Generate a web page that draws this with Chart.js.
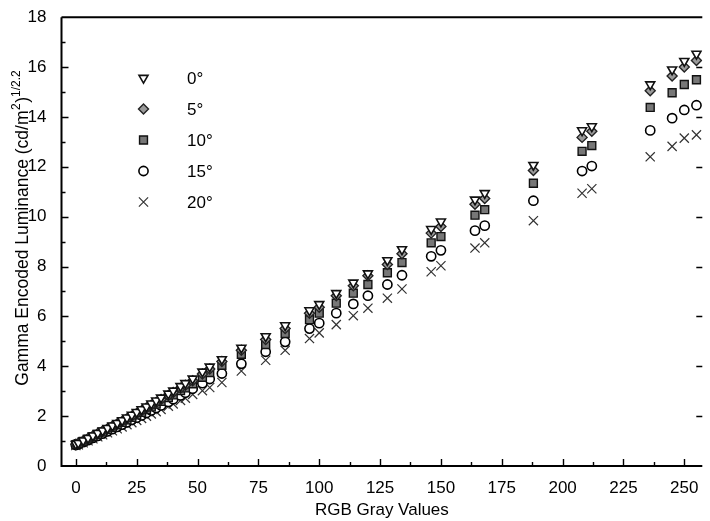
<!DOCTYPE html>
<html lang="en">
<head>
  <meta charset="UTF-8">
  <title>Gamma Encoded Luminance</title>
  <style>
    body { margin: 0; background: #fff; }
    #wrap { width: 710px; height: 521px; }
  </style>
  <script src="https://cdn.jsdelivr.net/npm/chart.js@4.4.0/dist/chart.umd.min.js"></script>
</head>
<body>
  <div id="wrap"><canvas id="lumChart" width="710" height="521"></canvas></div>
  <script>
    // RGB gray levels that were measured
    const grayValues = [0, 1, 3, 5, 7, 9, 11, 13, 15, 17, 19, 21, 23, 25, 27, 29, 31, 33, 35, 38, 40, 43, 45, 48,
      52, 55, 60, 68, 78, 86, 96, 100, 107, 114, 120, 128, 134, 146, 150, 164, 168, 188, 208, 212, 236, 245, 250, 255];

    // luminance^(1/2.2) per viewing angle
    const lum0 = [0.88, 0.92, 1.02, 1.12, 1.22, 1.32, 1.42, 1.52, 1.62, 1.72, 1.83, 1.94, 2.05, 2.16, 2.27, 2.38, 2.50, 2.62, 2.74, 2.90, 3.02, 3.20, 3.32, 3.50,
      3.78, 3.98, 4.28, 4.74, 5.20, 5.64, 6.24, 6.49, 6.93, 7.35, 7.72, 8.25, 8.69, 9.50, 9.80, 10.68, 10.94, 12.07, 13.46, 13.62, 15.30, 15.90, 16.24, 16.53];
    const lum5 = [0.87, 0.91, 1.00, 1.10, 1.20, 1.30, 1.40, 1.49, 1.59, 1.69, 1.79, 1.90, 2.00, 2.11, 2.22, 2.33, 2.44, 2.55, 2.67, 2.83, 2.95, 3.12, 3.24, 3.42,
      3.69, 3.89, 4.19, 4.64, 5.07, 5.51, 6.13, 6.37, 6.83, 7.23, 7.63, 8.08, 8.51, 9.34, 9.61, 10.50, 10.73, 11.85, 13.18, 13.43, 15.05, 15.64, 16.00, 16.26];
    const lum10 = [0.86, 0.90, 0.99, 1.08, 1.17, 1.27, 1.36, 1.46, 1.55, 1.65, 1.75, 1.85, 1.95, 2.05, 2.15, 2.26, 2.37, 2.48, 2.59, 2.74, 2.85, 3.02, 3.13, 3.30,
      3.56, 3.75, 4.04, 4.48, 4.87, 5.31, 5.87, 6.13, 6.53, 6.93, 7.28, 7.75, 8.16, 8.95, 9.20, 10.06, 10.28, 11.34, 12.62, 12.85, 14.38, 14.97, 15.30, 15.49];
    const lum15 = [0.84, 0.88, 0.96, 1.04, 1.13, 1.21, 1.30, 1.39, 1.48, 1.57, 1.66, 1.75, 1.85, 1.94, 2.03, 2.13, 2.23, 2.33, 2.43, 2.57, 2.68, 2.83, 2.94, 3.10,
      3.32, 3.49, 3.71, 4.10, 4.58, 4.98, 5.51, 5.73, 6.13, 6.50, 6.83, 7.28, 7.65, 8.41, 8.65, 9.44, 9.64, 10.64, 11.83, 12.03, 13.46, 13.95, 14.28, 14.47];
    const lum20 = [0.82, 0.85, 0.93, 1.01, 1.09, 1.17, 1.25, 1.33, 1.41, 1.49, 1.57, 1.66, 1.74, 1.83, 1.91, 2.00, 2.09, 2.18, 2.27, 2.40, 2.49, 2.63, 2.72, 2.87,
      3.02, 3.15, 3.35, 3.81, 4.24, 4.64, 5.11, 5.34, 5.67, 6.03, 6.33, 6.73, 7.10, 7.79, 8.03, 8.74, 8.95, 9.84, 10.94, 11.12, 12.40, 12.82, 13.15, 13.28];

    const angleLabels = ['0°', '5°', '10°', '15°', '20°'];
    const xTicks = [0, 25, 50, 75, 100, 125, 150, 175, 200, 225, 250];
    const yTicks = [0, 2, 4, 6, 8, 10, 12, 14, 16, 18];

    const FONT = '"Liberation Sans", Arial, sans-serif';

    const styles = [
      { pointStyle: 'triangle', rotation: 180, pointRadius: 5.2, backgroundColor: '#ffffff', borderColor: '#111', borderWidth: 1.6 },
      { pointStyle: 'rectRot', rotation: 0, pointRadius: 5, backgroundColor: '#9a9a9a', borderColor: '#222', borderWidth: 1.4 },
      { pointStyle: 'rect', rotation: 0, pointRadius: 5.6, backgroundColor: '#777777', borderColor: '#111', borderWidth: 1.4 },
      { pointStyle: 'circle', rotation: 0, pointRadius: 4.6, backgroundColor: '#ffffff', borderColor: '#000', borderWidth: 1.6 },
      { pointStyle: 'crossRot', rotation: 0, pointRadius: 6.5, backgroundColor: '#333', borderColor: '#333', borderWidth: 1.2 }
    ];

    const series = [lum0, lum5, lum10, lum15, lum20];
    const datasets = series.map((vals, i) => ({
      label: angleLabels[i],
      data: grayValues.map((g, j) => ({ x: g, y: vals[j] })),
      pointStyle: styles[i].pointStyle,
      rotation: styles[i].rotation,
      pointRadius: styles[i].pointRadius,
      pointHoverRadius: styles[i].pointRadius,
      backgroundColor: styles[i].backgroundColor,
      borderColor: styles[i].borderColor,
      borderWidth: styles[i].borderWidth,
      showLine: false
    }));

    // frame, inward ticks, legend and y title
    const decor = {
      id: 'decor',
      afterDraw(chart) {
        const ctx = chart.ctx;
        const a = chart.chartArea;
        const xs = chart.scales.x, ys = chart.scales.y;
        ctx.save();
        ctx.strokeStyle = '#000';
        ctx.lineWidth = 2;
        ctx.beginPath();
        ctx.moveTo(a.left, a.top); ctx.lineTo(a.right, a.top);
        ctx.moveTo(a.left, a.top); ctx.lineTo(a.left, a.bottom);
        ctx.moveTo(a.left - 1, a.bottom); ctx.lineTo(a.right, a.bottom);
        ctx.stroke();

        ctx.lineWidth = 1.4;
        ctx.beginPath();
        xTicks.forEach(v => {
          const px = Math.round(xs.getPixelForValue(v)) + 0.5;
          ctx.moveTo(px, a.bottom); ctx.lineTo(px, a.bottom - 7);
          const mx = Math.round(xs.getPixelForValue(v + 12.5)) + 0.5;
          if (v + 12.5 < xs.max) { ctx.moveTo(mx, a.bottom); ctx.lineTo(mx, a.bottom - 4); }
        });
        yTicks.forEach(v => {
          const py = Math.round(ys.getPixelForValue(v)) + 0.5;
          if (v > 0 && v < 18) {
            ctx.moveTo(a.left, py); ctx.lineTo(a.left + 7, py);
            ctx.moveTo(a.right, py); ctx.lineTo(a.right - 6, py);
          }
          if (v < 18) {
            const my = Math.round(ys.getPixelForValue(v + 1)) + 0.5;
            ctx.moveTo(a.left, my); ctx.lineTo(a.left + 4, my);
          }
        });
        ctx.stroke();

        // legend inside the plot
        ctx.textBaseline = 'middle';
        ctx.textAlign = 'left';
        chart.data.datasets.forEach((ds, i) => {
          const y = 78 + i * 31;
          ctx.fillStyle = ds.backgroundColor;
          ctx.strokeStyle = ds.borderColor;
          ctx.lineWidth = ds.borderWidth;
          Chart.helpers.drawPoint(ctx, {
            pointStyle: ds.pointStyle, rotation: ds.rotation,
            radius: ds.pointRadius, borderWidth: ds.borderWidth
          }, 143.5, y);
          ctx.font = '17px ' + FONT;
          ctx.fillStyle = '#000';
          ctx.fillText(ds.label, 187, y + 1);
        });

        // y axis title with superscripts
        ctx.translate(22, 228);
        ctx.rotate(-Math.PI / 2);
        const main = 'Gamma Encoded Luminance (cd/m';
        const sup1 = '2';
        const mid = ')';
        const sup2 = '1/2.2';
        ctx.font = '17.5px ' + FONT;
        const wMain = ctx.measureText(main).width;
        const wMid = ctx.measureText(mid).width;
        ctx.font = '12px ' + FONT;
        const wSup1 = ctx.measureText(sup1).width + 1;
        const wSup2 = ctx.measureText(sup2).width;
        const total = wMain + wSup1 + wMid + wSup2;
        let x = -total / 2;
        ctx.fillStyle = '#000';
        ctx.textAlign = 'left';
        ctx.textBaseline = 'alphabetic';
        ctx.font = '17.5px ' + FONT;
        ctx.fillText(main, x, 6); x += wMain;
        ctx.font = '12px ' + FONT;
        ctx.fillText(sup1, x + 0.5, -2); x += wSup1;
        ctx.font = '17.5px ' + FONT;
        ctx.fillText(mid, x, 6); x += wMid;
        ctx.font = '12px ' + FONT;
        ctx.fillText(sup2, x, -2.5);
        ctx.restore();
      }
    };

    new Chart(document.getElementById('lumChart'), {
      type: 'scatter',
      data: { datasets: datasets },
      options: {
        responsive: false,
        animation: false,
        layout: { padding: { left: 0, top: 13, right: 0, bottom: 0 } },
        plugins: { legend: { display: false }, tooltip: { enabled: false } },
        scales: {
          x: {
            type: 'linear',
            min: -5.9,
            max: 257.4,
            afterFit: s => { s.height = 55; },
            afterBuildTicks: s => { s.ticks = xTicks.map(v => ({ value: v })); },
            grid: { display: false },
            border: { display: false },
            ticks: { font: { family: FONT, size: 17 }, color: '#000', padding: 4, maxRotation: 0 },
            title: { display: true, text: 'RGB Gray Values', font: { family: FONT, size: 17 }, color: '#000', padding: { top: 0, bottom: 0 } }
          },
          y: {
            min: 0,
            max: 18,
            afterFit: s => { s.width = 61.5; },
            afterBuildTicks: s => { s.ticks = yTicks.map(v => ({ value: v })); },
            grid: { display: false },
            border: { display: false },
            ticks: { font: { family: FONT, size: 17 }, color: '#000', padding: 7 }
          }
        }
      },
      plugins: [decor]
    });
  </script>
</body>
</html>
